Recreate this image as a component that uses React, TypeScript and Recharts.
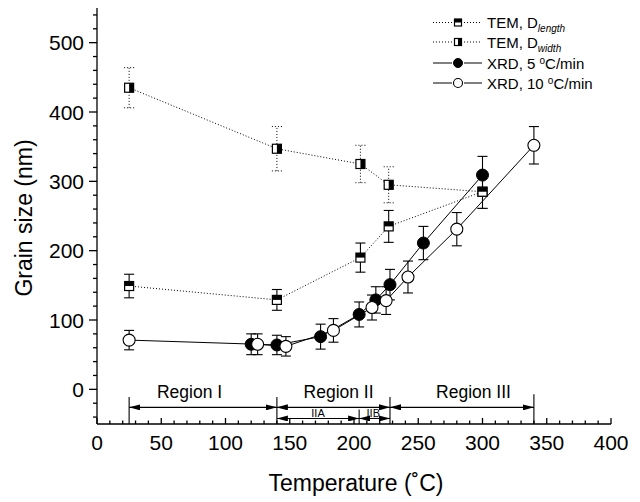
import React from 'react';
import {
  ComposedChart,
  Line,
  XAxis,
  YAxis,
  ErrorBar,
  ReferenceLine,
  ReferenceDot,
  Legend,
} from 'recharts';

// ---------- data ----------
const temLengthX = [25, 140, 205, 227, 300];
const temLengthY = [149, 129, 190, 235, 285];
const temLengthErr = [17, 15, 21, 23, 24];

const temWidthX = [25, 140, 205, 227, 300];
const temWidthY = [435, 347, 325, 295, 285];
const temWidthErr = [29, 32, 27, 26, 24];

const xrd5X = [120, 140, 174, 204, 217, 228, 254, 300];
const xrd5Y = [65, 64, 76, 108, 129, 151, 211, 309];
const xrd5Err = [15, 14, 18, 18, 19, 22, 24, 27];

const xrd10X = [25, 125, 147, 184, 214, 225, 242, 280, 340];
const xrd10Y = [71, 65, 62, 85, 118, 128, 162, 231, 352];
const xrd10Err = [14, 15, 14, 17, 18, 20, 23, 24, 27];

// region annotations
const regionBounds = [25, 140, 228, 340];
const regionBarTop = [-11, -11, -11, -7];
const regionArrowY = -26;
const regionLabels = ['Region I', 'Region II', 'Region III'];
const regionLabelX = [72, 188, 293];
const regionLabelY = -4;
const subBounds = [140, 204, 228];
const subBarTop = -29;
const subArrowY = -42;
const subLabels = ['IIA', 'IIB'];
const subLabelX = [172, 215];
const subLabelY = -34;

// axes
const xDomain = [0, 400];
const yDomain = [-50, 550];
const xMajorTicks = [0, 50, 100, 150, 200, 250, 300, 350, 400];
const yMajorTicks = [0, 100, 200, 300, 400, 500];
const xMinorStep = 10;
const yMinorStep = 20;
const xTicks: number[] = [];
for (let v = xDomain[0]; v <= xDomain[1]; v += xMinorStep) xTicks.push(v);
const yTicks: number[] = [];
for (let v = -40; v <= 540; v += yMinorStep) yTicks.push(v);

const mk = (xs: number[], ys: number[], es: number[]) =>
  xs.map((x, i) => ({ x, y: ys[i], err: es[i] }));

const temLength = mk(temLengthX, temLengthY, temLengthErr);
const temWidth = mk(temWidthX, temWidthY, temWidthErr);
const xrd5 = mk(xrd5X, xrd5Y, xrd5Err);
const xrd10 = mk(xrd10X, xrd10Y, xrd10Err);

const FONT = '"Liberation Sans", Arial, Helvetica, sans-serif';
const AX = 1.3;

// ---------- markers ----------
const SquareTopHalf = ({ cx, cy, s = 9 }: any) => {
  if (cx == null || cy == null) return null;
  const h = s / 2;
  return (
    <g>
      <rect x={cx - h} y={cy - h} width={s} height={s} fill="#fff" stroke="#000" strokeWidth={1.2} />
      <rect x={cx - h} y={cy - h} width={s} height={h} fill="#000" />
    </g>
  );
};
const SquareRightHalf = ({ cx, cy, s = 9 }: any) => {
  if (cx == null || cy == null) return null;
  const h = s / 2;
  return (
    <g>
      <rect x={cx - h} y={cy - h} width={s} height={s} fill="#fff" stroke="#000" strokeWidth={1.2} />
      <rect x={cx} y={cy - h} width={h} height={s} fill="#000" />
    </g>
  );
};
const FilledCircle = ({ cx, cy, r = 6 }: any) =>
  cx == null || cy == null ? null : <circle cx={cx} cy={cy} r={r} fill="#000" stroke="#000" strokeWidth={1} />;
const OpenCircle = ({ cx, cy, r = 6 }: any) =>
  cx == null || cy == null ? null : <circle cx={cx} cy={cy} r={r} fill="#fff" stroke="#000" strokeWidth={1.1} />;

// ---------- ticks ----------
const BottomTick = (p: any) => {
  const v = p.payload.value;
  const major = xMajorTicks.includes(v);
  return (
    <g>
      <line x1={p.x} x2={p.x} y1={p.y} y2={p.y - (major ? 6 : 3.5)} stroke="#000" strokeWidth={AX} />
      {major && (
        <text x={p.x} y={p.y + 26} textAnchor="middle" fontSize={21} fontFamily={FONT} fill="#000">
          {v}
        </text>
      )}
    </g>
  );
};
const TopTick = (p: any) => (
  <line x1={p.x} x2={p.x} y1={p.y} y2={p.y + 2} stroke="#000" strokeWidth={AX} />
);
const LeftTick = (p: any) => {
  const v = p.payload.value;
  const major = yMajorTicks.includes(v);
  return (
    <g>
      <line x1={p.x - (major ? 8 : 4)} x2={p.x} y1={p.y} y2={p.y} stroke="#000" strokeWidth={AX} />
      {major && (
        <text x={p.x - 13} y={p.y + 7.5} textAnchor="end" fontSize={21} fontFamily={FONT} fill="#000">
          {v}
        </text>
      )}
    </g>
  );
};
const RightTick = (p: any) => (
  <line x1={p.x - 3} x2={p.x} y1={p.y} y2={p.y} stroke="#000" strokeWidth={AX} />
);

// ---------- titles ----------
const XTitle = (p: any) => {
  const vb = p.viewBox || { x: 97, y: 424, width: 513, height: 78 };
  return (
    <text x={vb.x + vb.width / 2 + 2} y={vb.y + 67} textAnchor="middle" fontSize={23} fontFamily={FONT} fill="#000">
      Temperature (˚C)
    </text>
  );
};
const YTitle = (p: any) => {
  const vb = p.viewBox || { x: 0, y: 8, width: 97, height: 416 };
  const cx = vb.x + 32;
  const cy = vb.y + vb.height / 2 + 2;
  return (
    <text x={cx} y={cy} transform={`rotate(-90 ${cx} ${cy})`} textAnchor="middle" fontSize={23} fontFamily={FONT} fill="#000">
      Grain size (nm)
    </text>
  );
};

// ---------- legend ----------
const LegendBox = () => {
  const rows = [22.5, 42, 63, 83].map((v) => v - 8);
  const seg = (y: number, dotted: boolean) => (
    <g>
      <line x1={5} x2={24} y1={y} y2={y} stroke="#000" strokeWidth={1} strokeDasharray={dotted ? '1 2' : undefined} />
      <line x1={36} x2={54} y1={y} y2={y} stroke="#000" strokeWidth={1} strokeDasharray={dotted ? '1 2' : undefined} />
    </g>
  );
  const ts = { fontSize: 15, fontFamily: FONT, fill: '#000' } as any;
  return (
    <svg width={190} height={95} style={{ display: 'block' }}>
      {seg(rows[0], true)}
      <SquareTopHalf cx={30} cy={rows[0]} s={7} />
      <text x={59} y={rows[0] + 5.5} {...ts}>
        TEM, D<tspan fontSize={10} fontStyle="italic" dy={4}>length</tspan>
      </text>
      {seg(rows[1], true)}
      <SquareRightHalf cx={30} cy={rows[1]} s={7} />
      <text x={59} y={rows[1] + 5.5} {...ts}>
        TEM, D<tspan fontSize={10} fontStyle="italic" dy={4}>width</tspan>
      </text>
      {seg(rows[2], false)}
      <FilledCircle cx={30} cy={rows[2]} r={4.5} />
      <text x={59} y={rows[2] + 5.5} {...ts}>
        XRD, 5 <tspan fontSize={10} dy={-5}>o</tspan><tspan dy={5}>C/min</tspan>
      </text>
      {seg(rows[3], false)}
      <OpenCircle cx={30} cy={rows[3]} r={4.5} />
      <text x={59} y={rows[3] + 5.5} {...ts}>
        XRD, 10 <tspan fontSize={10} dy={-5}>o</tspan><tspan dy={5}>C/min</tspan>
      </text>
    </svg>
  );
};

const LabelText = (text: string, size: number) => (p: any) =>
  p.cx == null ? null : (
    <text x={p.cx} y={p.cy} dy="0.35em" textAnchor="middle" fontSize={size} fontFamily={FONT} fill="#000">
      {text}
    </text>
  );

export default function App() {
  return (
    <div style={{ position: 'absolute', left: 0, top: 0, width: 640, height: 502, background: '#fff' }}>
      <svg width={0} height={0} style={{ position: 'absolute' }}>
        <defs>
          <marker
            id="arrowHead"
            viewBox="0 0 11 6"
            refX={11}
            refY={3}
            markerWidth={11}
            markerHeight={6}
            markerUnits="userSpaceOnUse"
            orient="auto-start-reverse"
          >
            <path d="M0,0 L11,3 L0,6 z" fill="#000" />
          </marker>
        </defs>
      </svg>
      <ComposedChart width={640} height={502} margin={{ top: 8, right: 29, bottom: 0, left: 0 }}>
        <XAxis
          xAxisId={0}
          dataKey="x"
          type="number"
          domain={xDomain}
          allowDataOverflow
          ticks={xTicks}
          interval={0}
          tickSize={0}
          tickMargin={0}
          tickLine={false}
          tick={<BottomTick />}
          height={78}
          axisLine={{ stroke: '#000', strokeWidth: AX }}
          label={XTitle}
        />
        <XAxis
          xAxisId="top"
          orientation="top"
          type="number"
          domain={xDomain}
          allowDataOverflow
          ticks={xTicks}
          interval={0}
          tickSize={0}
          tickMargin={0}
          tickLine={false}
          tick={<TopTick />}
          height={0}
          axisLine={{ stroke: '#000', strokeWidth: AX }}
        />
        <YAxis
          yAxisId={0}
          type="number"
          domain={yDomain}
          allowDataOverflow
          ticks={yTicks}
          interval={0}
          tickSize={0}
          tickMargin={0}
          tickLine={false}
          tick={<LeftTick />}
          width={97}
          axisLine={{ stroke: '#000', strokeWidth: AX }}
          label={YTitle}
        />
        <YAxis
          yAxisId="right"
          orientation="right"
          type="number"
          domain={yDomain}
          allowDataOverflow
          ticks={yTicks}
          interval={0}
          tickSize={0}
          tickMargin={0}
          tickLine={false}
          tick={<RightTick />}
          width={0}
          axisLine={{ stroke: '#000', strokeWidth: AX }}
        />

        {/* region annotations */}
        {regionBounds.map((b, i) => (
          <ReferenceLine
            key={`rb${i}`}
            segment={[{ x: b, y: yDomain[0] }, { x: b, y: regionBarTop[i] }]}
            stroke="#000"
            strokeWidth={1.1}
          />
        ))}
        {regionLabels.map((_, i) => (
          <ReferenceLine
            key={`ra${i}`}
            segment={[{ x: regionBounds[i], y: regionArrowY }, { x: regionBounds[i + 1], y: regionArrowY }]}
            stroke="#000"
            strokeWidth={1.1}
            markerStart="url(#arrowHead)"
            markerEnd="url(#arrowHead)"
          />
        ))}
        <ReferenceLine
          segment={[{ x: subBounds[1], y: yDomain[0] }, { x: subBounds[1], y: subBarTop }]}
          stroke="#000"
          strokeWidth={1.1}
        />
        {subLabels.map((_, i) => (
          <ReferenceLine
            key={`sa${i}`}
            segment={[{ x: subBounds[i], y: subArrowY }, { x: subBounds[i + 1], y: subArrowY }]}
            stroke="#000"
            strokeWidth={1.1}
            markerStart="url(#arrowHead)"
            markerEnd="url(#arrowHead)"
          />
        ))}
        {regionLabels.map((t, i) => (
          <ReferenceDot key={`rl${i}`} x={regionLabelX[i]} y={regionLabelY} r={0} shape={LabelText(t, 17.5)} />
        ))}
        {subLabels.map((t, i) => (
          <ReferenceDot key={`sl${i}`} x={subLabelX[i]} y={subLabelY} r={0} shape={LabelText(t, 11)} />
        ))}

        {/* series */}
        <Line
          data={temWidth}
          dataKey="y"
          name="TEM, D width"
          type="linear"
          stroke="#000"
          strokeWidth={1}
          strokeDasharray="1 2"
          dot={(p: any) => <SquareRightHalf key={`w${p.index}`} cx={p.cx} cy={p.cy} />}
          activeDot={false}
          isAnimationActive={false}
        >
          <ErrorBar dataKey="err" direction="y" width={5} stroke="#000" strokeWidth={1} strokeDasharray="1 2" />
        </Line>
        <Line
          data={temLength}
          dataKey="y"
          name="TEM, D length"
          type="linear"
          stroke="#000"
          strokeWidth={1}
          strokeDasharray="1 2"
          dot={(p: any) => <SquareTopHalf key={`l${p.index}`} cx={p.cx} cy={p.cy} />}
          activeDot={false}
          isAnimationActive={false}
        >
          <ErrorBar dataKey="err" direction="y" width={5} stroke="#000" strokeWidth={1.1} />
        </Line>
        <Line
          data={xrd5}
          dataKey="y"
          name="XRD, 5 °C/min"
          type="linear"
          stroke="#000"
          strokeWidth={1}
          dot={(p: any) => <FilledCircle key={`f${p.index}`} cx={p.cx} cy={p.cy} />}
          activeDot={false}
          isAnimationActive={false}
        >
          <ErrorBar dataKey="err" direction="y" width={5} stroke="#000" strokeWidth={1.1} />
        </Line>
        <Line
          data={xrd10}
          dataKey="y"
          name="XRD, 10 °C/min"
          type="linear"
          stroke="#000"
          strokeWidth={1}
          dot={(p: any) => <OpenCircle key={`o${p.index}`} cx={p.cx} cy={p.cy} />}
          activeDot={false}
          isAnimationActive={false}
        >
          <ErrorBar dataKey="err" direction="y" width={5} stroke="#000" strokeWidth={1.1} />
        </Line>

        <Legend
          layout="vertical"
          align="center"
          verticalAlign="middle"
          content={() => <LegendBox />}
          wrapperStyle={{ top: 8, left: 428, width: 190, height: 95 }}
        />
      </ComposedChart>
    </div>
  );
}
